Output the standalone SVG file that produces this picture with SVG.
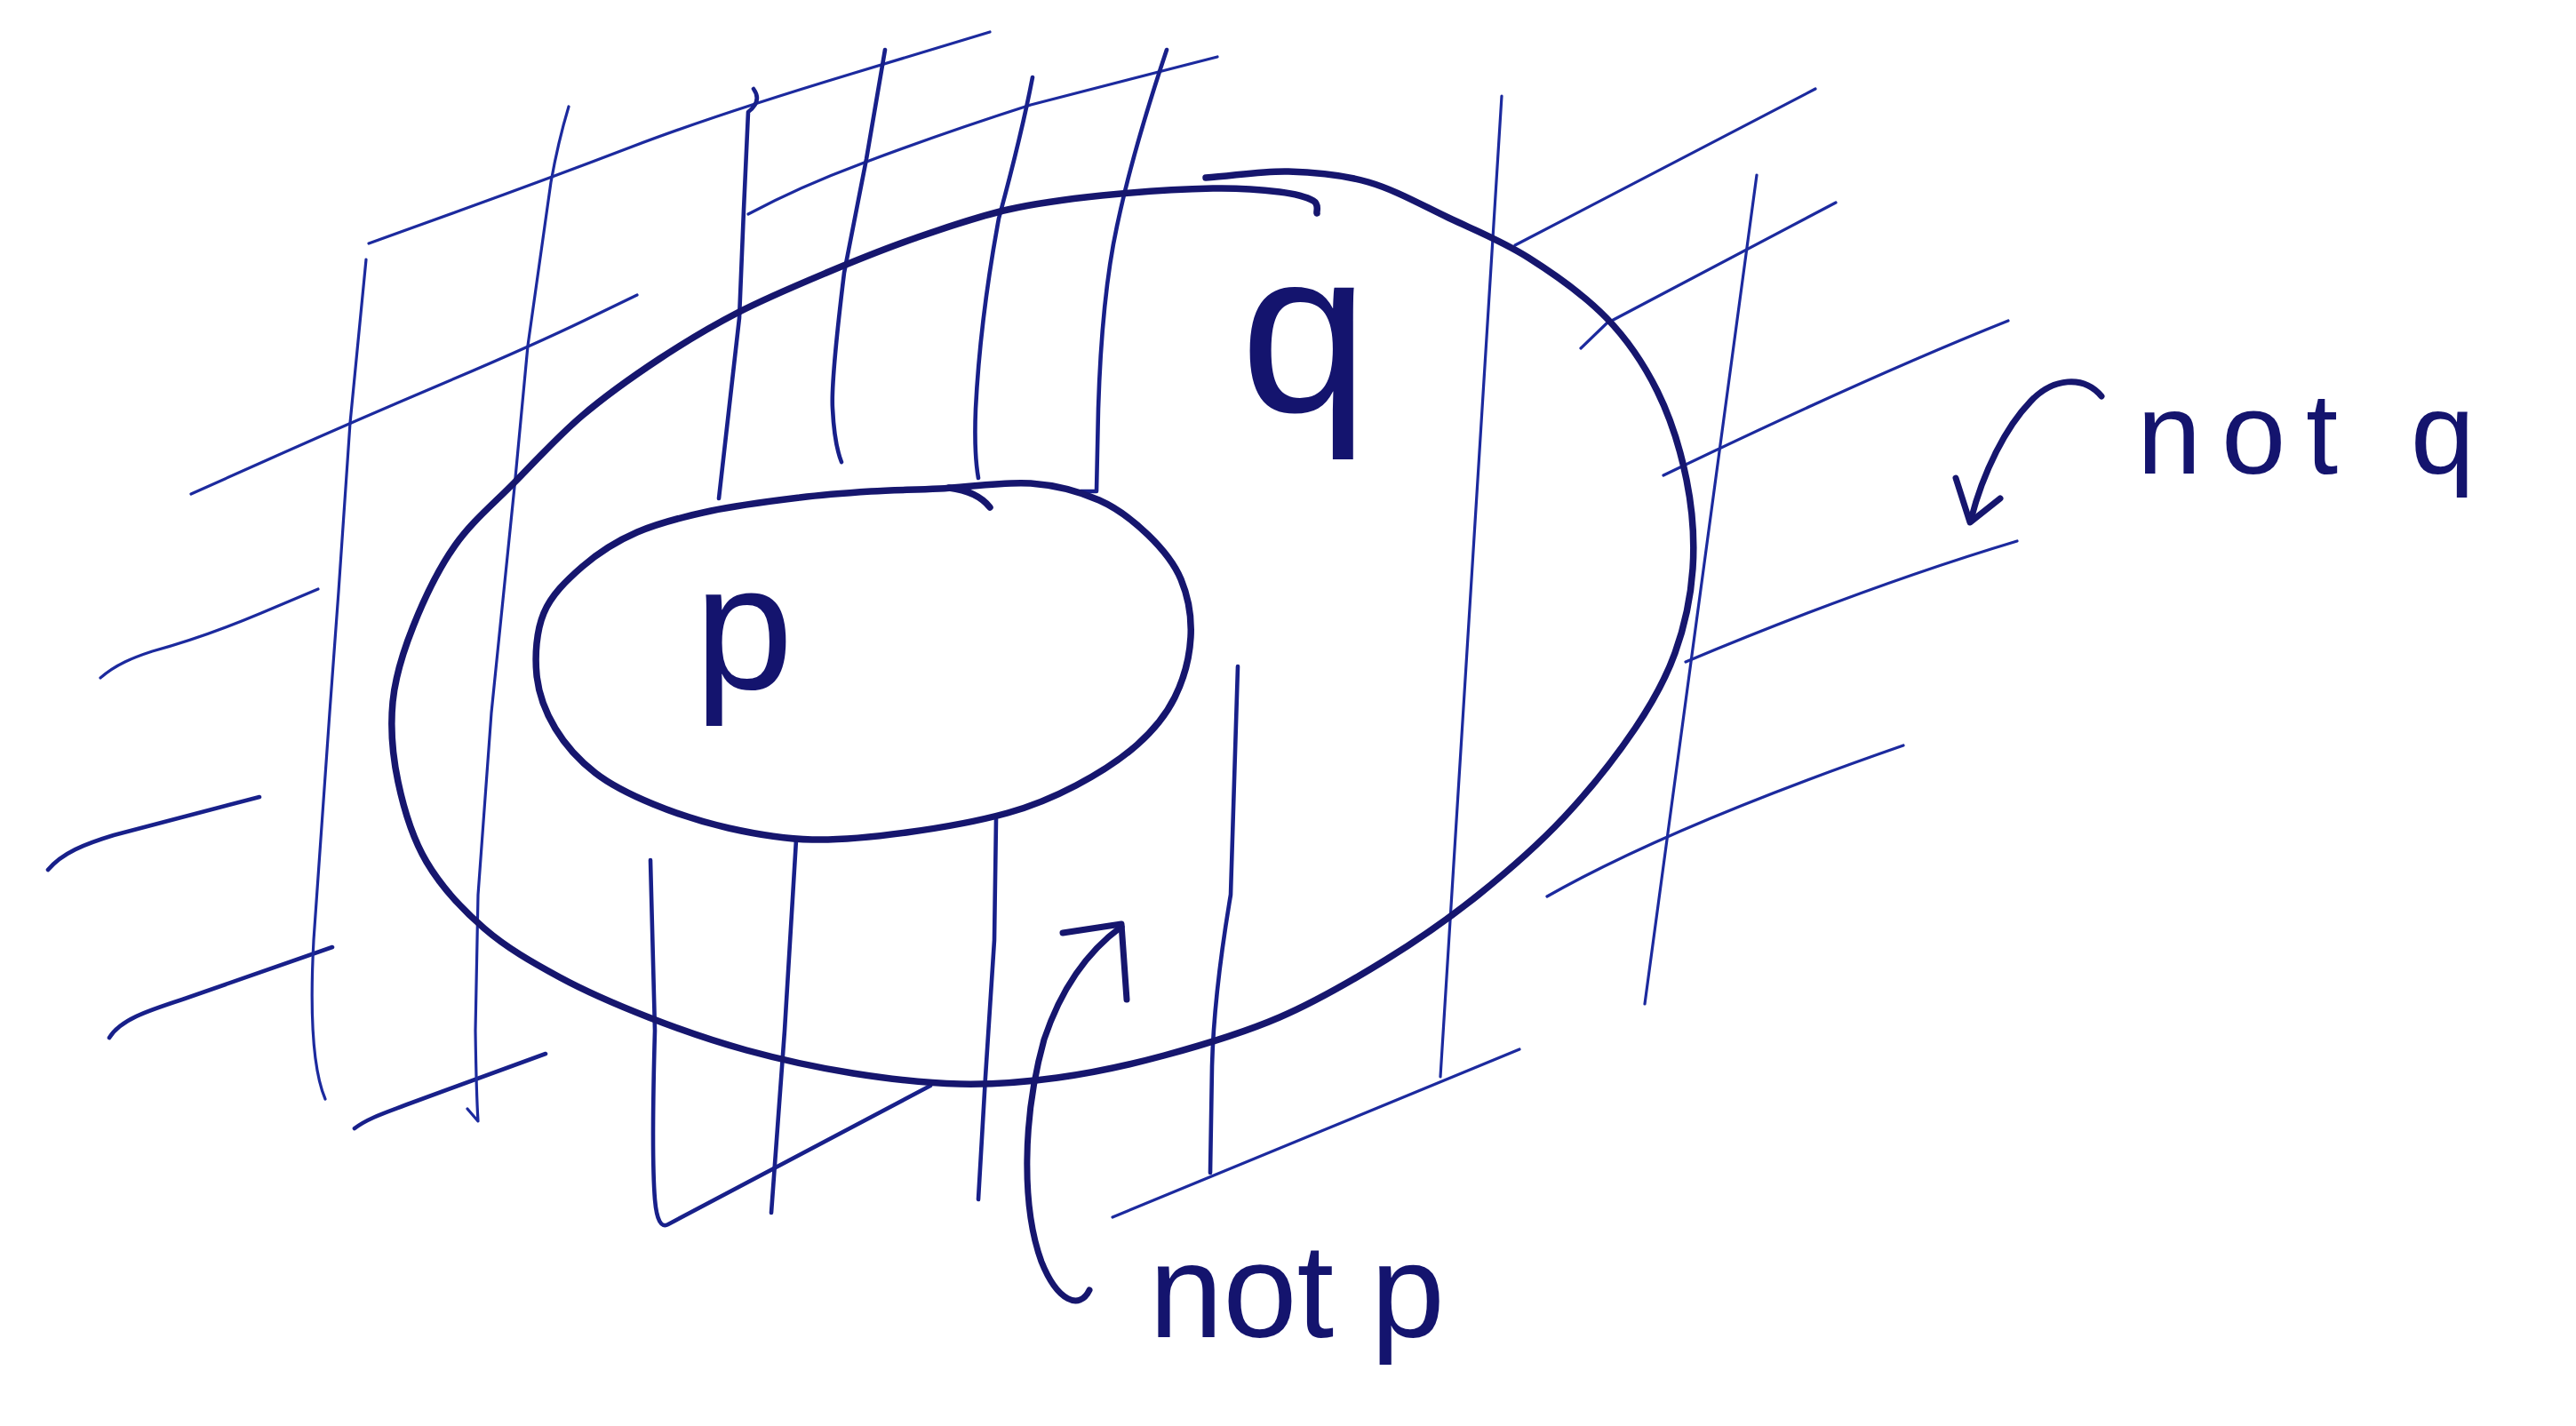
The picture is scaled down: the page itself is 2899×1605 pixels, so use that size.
<svg xmlns="http://www.w3.org/2000/svg" width="2899" height="1605" viewBox="0 0 2899 1605">
<style>
.thick{fill:none;stroke:#16166e;stroke-width:7.5;stroke-linecap:round;stroke-linejoin:round}
.hatch{fill:none;stroke:#1c2a9e;stroke-width:3.2;stroke-linecap:round;stroke-linejoin:round}
.hm{stroke-width:4.6;stroke:#18208a}
.arrow{fill:none;stroke:#16166e;stroke-width:7;stroke-linecap:round;stroke-linejoin:round}
.label{font-family:"Liberation Sans",Arial,sans-serif;fill:#14146e}
</style>
<rect width="2899" height="1605" fill="#ffffff"/>
<g id="hatching">
<path class="hatch" d="M415,274 L517.5,237 Q620,200 711.5,165 Q803,130 958.5,83 L1114,36"/>
<path class="hatch" d="M215,556 L304.5,516 Q394,476 496.5,432.5 Q599,389 658,360.5 L717,332"/>
<path class="hatch" d="M113,763 C130,748 150,740 171.5,733 Q230,717 294,690 L358,663"/>
<path class="hatch hm" d="M54,979 C70,960 95,950 128,940 L292,897"/>
<path class="hatch hm" d="M123,1168 C135,1148 165,1138 205,1125 L374,1066"/>
<path class="hatch hm" d="M399,1270 C415,1258 435,1252 461,1242 L614,1186"/>
<path class="hatch" d="M412,292 L394,476 L381,666 L371,802 L353,1058 Q346,1190 366,1237"/>
<path class="hatch" d="M640,120 Q628,160 620,205 L594,389 L579,548 L553,802 L538,1007 L535,1160 Q536,1230 538,1262 L526,1248"/>
<path class="hatch hm" d="M732,968 L737,1160 Q733,1300 737,1350 Q740,1385 752,1378 L1047,1222"/>
<path class="hatch hm" d="M896,945 L883,1160 L868,1365"/>
<path class="hatch hm" d="M1121,922 L1119,1058 L1109,1212 L1101,1350"/>
<path class="hatch hm" d="M1393,750 L1385,1007 Q1366,1120 1364,1200 L1362,1320"/>
<path class="hatch" d="M1252,1370 L1710,1181"/>
<path class="hatch" d="M1690,108 L1621,1212"/>
<path class="hatch" d="M1977,197 L1851,1130"/>
<path class="hatch" d="M2043,100 L1705,276"/>
<path class="hatch" d="M2066,228 L1808,364 L1779,392"/>
<path class="hatch" d="M2260,361 Q2100,425 1872,535"/>
<path class="hatch" d="M2270,609 Q2100,660 1897,745"/>
<path class="hatch" d="M2142,839 Q1880,930 1741,1009"/>
<path class="hatch" d="M842,241 Q900,210 970,184 Q1060,150 1160,118 L1370,64"/>
<path class="hatch hm" d="M848,100 Q858,114 842,126 L837,236 L832,358 L809,561"/>
<path class="hatch hm" d="M996,56 L975,179 L950,307 Q935,430 937,460 Q939,500 947,520"/>
<path class="hatch hm" d="M1162,87 Q1150,150 1124,246 Q1103,360 1098,460 Q1096,510 1101,538"/>
<path class="hatch hm" d="M1313,56 Q1275,170 1258,250 Q1240,330 1236,460 L1234,553 L1216,553"/>
</g>
<g id="node-q">
<path class="thick" d="M1357,200 C1388,198 1419.5,192.2 1450,193 S1510,196.3 1540,205 S1600,230.8 1630,245 S1690.3,271.2 1720,290 S1783.8,333 1808,358 S1850,409.7 1865,440 S1891.3,506.7 1898,540 S1907.2,607.5 1905,640 S1895.8,705 1885,735 S1860.8,789.2 1840,820 S1789.3,888.8 1760,920 S1697.3,980.3 1664,1007 S1597.3,1057 1560,1080 S1481.7,1127 1440,1145 S1351.7,1176.7 1310,1188 S1228.3,1207.7 1190,1213 S1118.3,1220.8 1080,1220 S1000,1214.3 960,1208 S878.3,1192.5 840,1182 S765,1158.7 730,1145 S660.8,1116.7 630,1100 S570,1066.7 545,1045 S496.2,997.5 480,970 S454.3,910 448,880 S439.2,819.2 442,790 S453.3,734.3 465,705 S493,641 512,614 S555.2,567.3 579,543 S627.8,491.2 655,468 S712.8,423.3 742,404 S798.7,368.2 830,352 S896.7,321 930,307 S996,279.8 1030,268 S1099,244 1134,236 S1201.5,224 1240,220 S1331.7,212.7 1365,212 S1421.2,213.7 1440,216 S1471,222 1478,226 S1481.3,237.7 1482,240"/>
<text class="label" x="1468" y="463" font-size="260" text-anchor="middle">q</text>
</g>
<g id="node-p">
<path class="thick" d="M1057,550 C1087,548.5 1130,541.8 1160,544 S1215,553.3 1237,563 S1276.7,587.2 1292,602 S1321,632.8 1329,652 S1341.2,694.8 1340,717 S1332,764.8 1322,785 S1298.5,821.5 1280,838 S1235.3,871.2 1211,884 S1165.8,906.2 1134,915 S1056.7,932 1020,937 S947.3,945.8 914,945 S849.8,938.7 820,932 S760,915.3 735,905 S688.3,884.2 670,870 S636,838.3 625,820 S606.2,781.7 604,760 S603.5,710.3 612,690 S637.5,653.2 655,638 S692.8,609.5 717,599 S769.5,581.5 800,575 S870,563.7 900,560 S953.8,554.7 980,553 S1027,551.5 1057,550 Z"/>
<path class="thick" d="M1068,549 Q1100,553 1114,571"/>
<text class="label" x="837" y="775" font-size="200" text-anchor="middle">p</text>
</g>
<g id="connectors">
<path class="arrow" d="M2365,446 C2345,422 2310,425 2285,452 C2258,480 2232,530 2218,585"/>
<path class="arrow" d="M2201,538 L2217,588 L2251,561"/>
<path class="arrow" d="M1226,1452 C1215,1475 1190,1465 1172,1420 C1150,1360 1150,1260 1175,1170 C1195,1110 1225,1070 1262,1043"/>
<path class="arrow" d="M1196,1050 L1262,1040 L1268,1125"/>
</g>
<g id="label-not-p">
<text class="label" x="1293" y="1505" font-size="150" textLength="333" lengthAdjust="spacing">not p</text>
</g>
<g id="label-not-q">
<text class="label" x="2405" y="533" font-size="130" textLength="380" lengthAdjust="spacing">not q</text>
</g>
</svg>
